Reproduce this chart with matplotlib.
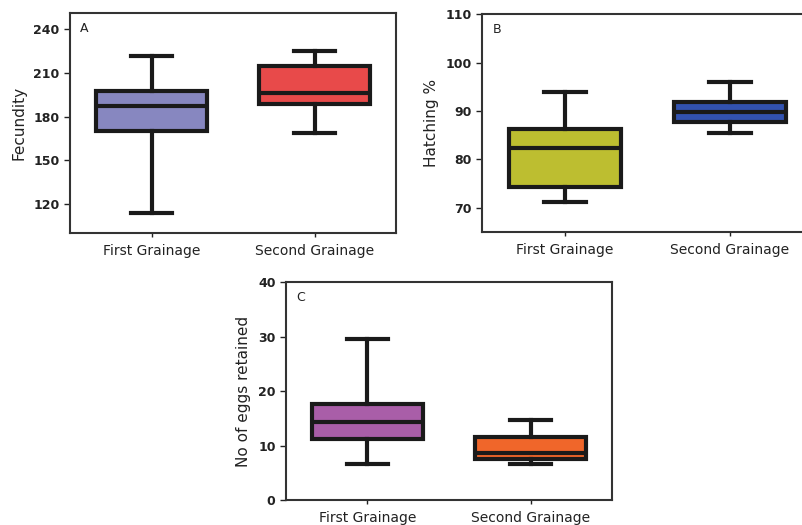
import matplotlib
matplotlib.use("Agg")
import matplotlib.pyplot as plt

categories = ["First Grainage", "Second Grainage"]

# box statistics: whisker low, q1, median, q3, whisker high
fecundity = [
    [114, 170.5, 187.5, 197.7, 221.6],
    [169, 189, 196.4, 214.8, 225],
]
hatching = [
    [71.3, 74.4, 82.4, 86.3, 94.0],
    [85.5, 87.8, 89.8, 91.8, 95.9],
]
eggs_retained = [
    [6.6, 11.2, 14.4, 17.6, 29.6],
    [6.6, 7.5, 8.6, 11.5, 14.7],
]

colors_a = ["#8787c0", "#e84a4a"]
colors_b = ["#bdbe30", "#3252b0"]
colors_c = ["#a95ea8", "#f0662a"]

fig = plt.figure(figsize=(8.02, 5.25), dpi=100)

def panel(rect, data, colors, ylim, yticks, ylabel, letter):
    ax = fig.add_axes(rect)
    stats = []
    for cat, (lo, q1, med, q3, hi) in zip(categories, data):
        stats.append(dict(label=cat, whislo=lo, q1=q1, med=med, q3=q3, whishi=hi, fliers=[]))
    lw = 3.0
    bp = ax.bxp(stats, positions=[1, 2], widths=0.68, patch_artist=True,
                showfliers=False, capwidths=0.25,
                boxprops=dict(linewidth=lw, edgecolor="#1a1a1a"),
                medianprops=dict(linewidth=lw, color="#1a1a1a"),
                whiskerprops=dict(linewidth=lw, color="#1a1a1a"),
                capprops=dict(linewidth=lw, color="#1a1a1a"))
    for patch, c in zip(bp["boxes"], colors):
        patch.set_facecolor(c)
    ax.set_xlim(0.5, 2.5)
    ax.set_ylim(*ylim)
    ax.set_yticks(yticks)
    ax.set_xticks([1, 2])
    ax.set_xticklabels(categories, fontsize=10, color="#222222")
    ax.tick_params(axis="y", labelsize=9, length=4, width=1, colors="#222222")
    ax.tick_params(axis="x", length=3, width=1, colors="#222222", pad=5)
    for lab in ax.get_yticklabels():
        lab.set_fontweight("bold")
    for s in ax.spines.values():
        s.set_linewidth(1.5)
        s.set_color("#333333")
    ax.set_ylabel(ylabel, fontsize=11, color="#222222", labelpad=5)
    ax.text(0.03, 0.96, letter, transform=ax.transAxes, ha="left", va="top",
            fontsize=9, color="#222222")
    return ax

panel([0.0873, 0.5568, 0.4065, 0.4184], fecundity, colors_a, (100.5, 251),
      [120, 150, 180, 210, 240], "Fecundity", "A")
panel([0.6016, 0.558, 0.4115, 0.4152], hatching, colors_b, (65, 110),
      [70, 80, 90, 100, 110], "Hatching %", "B")
panel([0.3566, 0.0476, 0.4065, 0.4147], eggs_retained, colors_c, (0, 40),
      [0, 10, 20, 30, 40], "No of eggs retained", "C")

fig.savefig("out.png", dpi=100)
